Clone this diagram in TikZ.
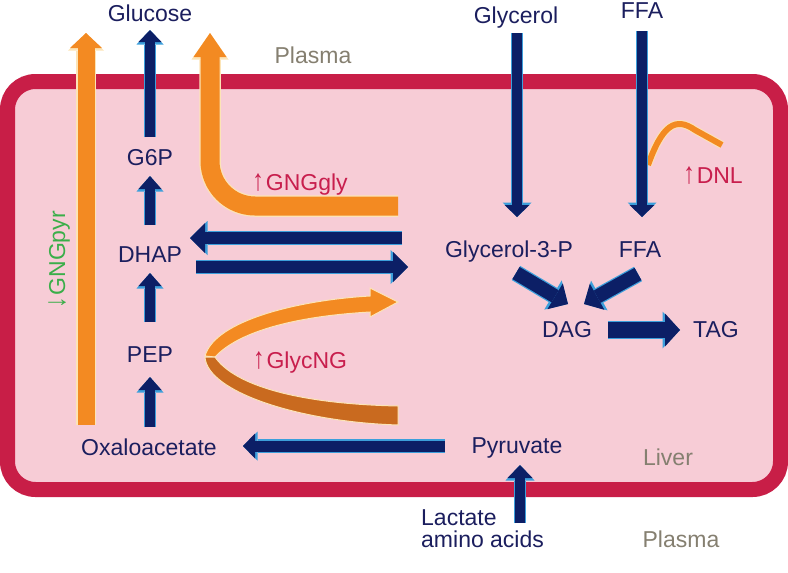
\documentclass[tikz,border=0pt]{standalone}
\usepackage{fontspec}
\setmainfont{Liberation Sans}
\usetikzlibrary{arrows.meta,calc}
\definecolor{navy}{HTML}{0C1F66}
\definecolor{lblue}{HTML}{3C9FDB}
\definecolor{txtnavy}{HTML}{1B1E5E}
\definecolor{livfill}{HTML}{F7CCD6}
\definecolor{livborder}{HTML}{C81E47}
\definecolor{org}{HTML}{F38A22}
\definecolor{orgdark}{HTML}{C96A1F}
\definecolor{cream}{HTML}{FCE4B6}
\definecolor{greytxt}{HTML}{857F70}
\definecolor{redtxt}{HTML}{C81E4D}
\definecolor{greentxt}{HTML}{3AAE49}
% #1 extra opts, #2 fill colour, #3 outline colour, #4 shaft, #5 head width, #6 head length, #7 path
\newcommand{\blkarrow}[7][]{%
  \pgfmathsetmacro\bkA{#4+2.5}%
  \pgfmathsetmacro\bkB{#5+4}%
  \pgfmathsetmacro\bkC{#6+2.5}%
  \draw[#1,draw=#3,line width=\bkA pt,-{Triangle[width=\bkB pt,length=\bkC pt,line width=0pt,fill=#3]}] #7;
  \draw[#1,draw=#2,line width=#4pt,-{Triangle[width=#5pt,length=#6pt,line width=0pt,fill=#2]}] #7;
}
\newcommand{\upar}{\scalebox{1}[1.3]{↑}\hspace{2pt}}
\newcommand{\dnar}{\scalebox{1}[1.3]{↓}\hspace{2pt}}
\tikzset{
  lab/.style={font=\fontsize{23}{22}\selectfont, text=txtnavy, inner sep=0pt, anchor=base},
  greylab/.style={lab, text=greytxt},
  redlab/.style={lab, text=redtxt},
  greenlab/.style={lab, text=greentxt},
}
\begin{document}
\begin{tikzpicture}[x=1pt,y=-1pt]
\useasboundingbox (0,0) rectangle (788,573);
% liver cell
\draw[livborder, fill=livfill, line width=15pt, rounded corners=28pt] (7.5,81.5) rectangle (780.5,489.5);

% labels
\node[lab] (glucose) at (150,21) {Glucose};
\node[greylab] (plasmatop) at (313,63) {Plasma};
\node[lab] (glycerol) at (516,23) {Glycerol};
\node[lab] (ffatop) at (642,18) {FFA};
\node[lab] (g6p) at (150,165) {G6P};
\node[redlab] (gnggly) at (300,190) {\upar GNGgly};
\node[lab] (dhap) at (150,262) {DHAP};
\node[lab] (pep) at (150,362) {PEP};
\node[redlab] (glycng) at (300,368) {\upar GlycNG};
\node[lab] (oaa) at (149,455) {Oxaloacetate};
\node[lab] (pyr) at (517,453) {Pyruvate};
\node[greylab] (liver) at (668,465) {Liver};
\node[greylab] (plasmabot) at (681,547) {Plasma};
\node[lab, anchor=base west, align=left] (lac) at (421,547) {Lactate\\amino acids};
\node[lab] (g3p) at (509,257) {Glycerol-3-P};
\node[lab] (ffa) at (640,257) {FFA};
\node[lab] (dag) at (567,337) {DAG};
\node[lab] (tag) at (716,337) {TAG};
\node[redlab] (dnl) at (713,183) {\upar DNL};
\node[greenlab, rotate=90] (gngpyr) at (65,260) {\dnar GNGpyr};

% arrow end points
\coordinate (o1s) at (86,425);   \coordinate (o1e) at (86,33);
\coordinate (o2s) at (398,206);  \coordinate (o2e) at (210,33);
\coordinate (a1s) at (150,137);  \coordinate (a1e) at (150,30);
\coordinate (a2s) at (150,225);  \coordinate (a2e) at (150,176);
\coordinate (a3s) at (150,322);  \coordinate (a3e) at (150,273);
\coordinate (a4s) at (150,427);  \coordinate (a4e) at (150,377);
\coordinate (a5s) at (402,238);  \coordinate (a5e) at (190,238);
\coordinate (a6s) at (196,267);  \coordinate (a6e) at (408,267);
\coordinate (a7s) at (445,446);  \coordinate (a7e) at (243,446);
\coordinate (a8s) at (520,523);  \coordinate (a8e) at (520,465);
\coordinate (a9s) at (517,33);   \coordinate (a9e) at (517,217);
\coordinate (a10s) at (642,31);  \coordinate (a10e) at (642,217);
\coordinate (a11s) at (516,273); \coordinate (a11e) at (568,304);
\coordinate (a12s) at (638,274); \coordinate (a12e) at (584,304);
\coordinate (a13s) at (608,330); \coordinate (a13e) at (680,330);
\coordinate (dnls) at (648,165); \coordinate (dnle) at (722,145);

% orange arrows
\blkarrow{org}{cream}{17}{32}{15}{(o1s) -- (o1e)}
\blkarrow[rounded corners=45pt]{org}{cream}{19}{33}{24}{(o2s) -| (o2e)}
% GlycNG ribbon
\filldraw[fill=org, draw=cream, line width=1pt] (205,356) .. controls (215,320) and (300,300) .. (370,296)
  -- (370,288) -- (398,302) -- (370,317) -- (370,312)
  .. controls (300,316) and (240,330) .. (215,357) -- cycle;
\filldraw[fill=orgdark, draw=cream, line width=1pt] (205,357) .. controls (207,392) and (300,422) .. (398,425)
  -- (398,406) .. controls (300,404) and (235,386) .. (215,357) -- cycle;
% DNL
\draw[cream, line width=8pt] (dnls) .. controls (662,126) and (675,116) .. (695,130) -- (dnle);
\draw[org, line width=6pt] (dnls) .. controls (662,126) and (675,116) .. (695,130) -- (dnle);

% navy arrows
\blkarrow{navy}{lblue}{10}{23}{12}{(a1s) -- (a1e)}
\blkarrow{navy}{lblue}{10}{23}{13}{(a2s) -- (a2e)}
\blkarrow{navy}{lblue}{10}{23}{13}{(a3s) -- (a3e)}
\blkarrow{navy}{lblue}{10}{23}{13}{(a4s) -- (a4e)}
\blkarrow{navy}{lblue}{12}{30}{15}{(a5s) -- (a5e)}
\blkarrow{navy}{lblue}{12}{30}{15}{(a6s) -- (a6e)}
\blkarrow{navy}{lblue}{11}{25}{12}{(a7s) -- (a7e)}
\blkarrow{navy}{lblue}{10}{25}{13}{(a8s) -- (a8e)}
\blkarrow{navy}{lblue}{10}{25}{12}{(a9s) -- (a9e)}
\blkarrow{navy}{lblue}{10}{25}{12}{(a10s) -- (a10e)}
\blkarrow{navy}{lblue}{14}{30}{15}{(a11s) -- (a11e)}
\blkarrow{navy}{lblue}{14}{30}{15}{(a12s) -- (a12e)}
\blkarrow{navy}{lblue}{16}{33}{15}{(a13s) -- (a13e)}
\end{tikzpicture}
\end{document}
